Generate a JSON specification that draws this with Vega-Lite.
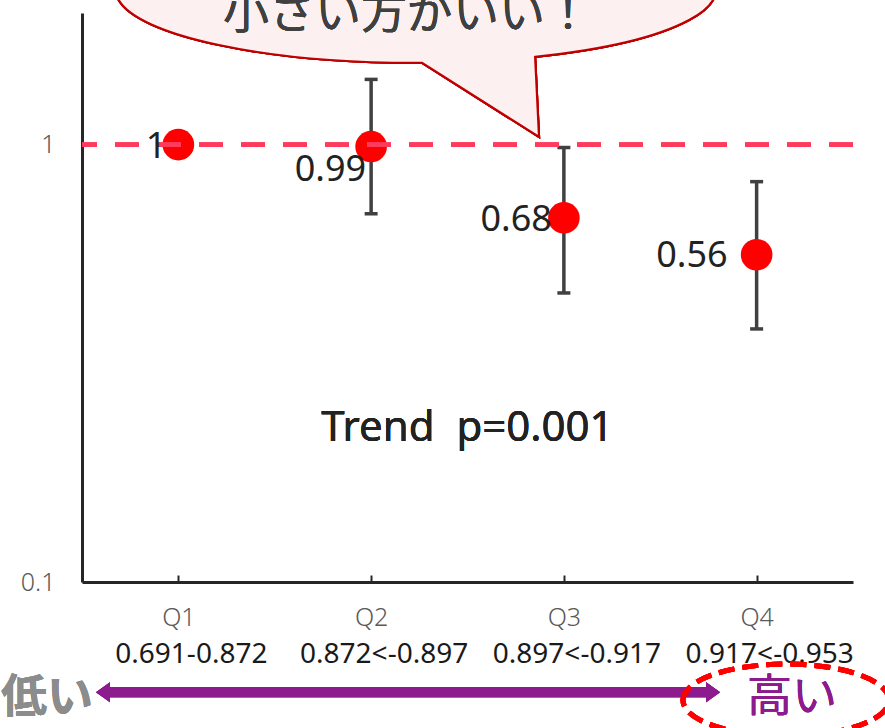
{
  "$schema": "https://vega.github.io/schema/vega-lite/v6.json",
  "width": 771,
  "height": 569,
  "autosize": {"type": "none"},
  "padding": {"left": 82, "top": 13, "right": 32, "bottom": 146},
  "background": "white",
  "config": {
    "view": {"stroke": null},
    "font": "Noto Sans",
    "text": {"font": "Noto Sans"}
  },
  "datasets": {
    "pts": [
      {"q": 1, "quart": "Q1", "hr": 1.0, "lo": null, "hi": null, "label": "1", "range": "0.691-0.872"},
      {"q": 2, "quart": "Q2", "hr": 0.99, "lo": 0.695, "hi": 1.41, "label": "0.99", "range": "0.872<-0.897"},
      {"q": 3, "quart": "Q3", "hr": 0.68, "lo": 0.458, "hi": 0.985, "label": "0.68", "range": "0.897<-0.917"},
      {"q": 4, "quart": "Q4", "hr": 0.56, "lo": 0.379, "hi": 0.823, "label": "0.56", "range": "0.917<-0.953"}
    ]
  },
  "data": {"name": "pts"},
  "layer": [
    {
      "mark": {"type": "point", "shape": "M 0.397 0.2233 A 1 0.2433 0 1 0 0.02 0.2433 L 0.41 0.49 Z", "size": 360000, "filled": true, "fill": "#FDF0F0", "stroke": "#C00000", "strokeWidth": 2.2, "opacity": 1},
      "encoding": {
        "x": {"datum": 2.233, "type": "quantitative", "scale": {"domain": [0.5, 4.5], "nice": false, "zero": false},
          "axis": {"values": [1, 2, 3, 4], "labelExpr": "'Q' + datum.value", "title": null, "grid": false, "domainColor": "#262626", "domainWidth": 3, "tickColor": "#262626", "tickWidth": 2, "tickSize": -7, "labelPadding": 30, "labelFontSize": 25, "labelColor": "#595959", "labelFont": "Noto Sans", "labelFontWeight": 300}},
        "y": {"datum": 2.258, "type": "quantitative", "scale": {"type": "log", "domain": [0.1, 2], "nice": false},
          "axis": {"values": [0.1, 1], "format": "~g", "title": null, "grid": false, "ticks": false, "domainColor": "#262626", "domainWidth": 3, "labelPadding": 27, "labelFontSize": 25, "labelColor": "#595959", "labelFont": "Noto Sans", "labelFontWeight": 300}}
      }
    },
    {
      "mark": {"type": "text", "text": "小さい方がいい！", "font": "Noto Sans CJK JP", "fontSize": 46, "color": "#404040", "align": "center", "baseline": "alphabetic"},
      "encoding": {
        "x": {"datum": 2.186, "type": "quantitative"},
        "y": {"datum": 1.85, "type": "quantitative"}
      }
    },
    {
      "transform": [{"filter": "datum.lo != null"}],
      "mark": {"type": "rule", "color": "#404040", "strokeWidth": 3.5},
      "encoding": {
        "x": {"field": "q", "type": "quantitative"},
        "y": {"field": "lo", "type": "quantitative"},
        "y2": {"field": "hi"}
      }
    },
    {
      "transform": [{"filter": "datum.lo != null"}],
      "mark": {"type": "tick", "orient": "horizontal", "color": "#404040", "size": 13, "thickness": 3.5, "opacity": 1},
      "encoding": {
        "x": {"field": "q", "type": "quantitative"},
        "y": {"field": "lo", "type": "quantitative"}
      }
    },
    {
      "transform": [{"filter": "datum.hi != null"}],
      "mark": {"type": "tick", "orient": "horizontal", "color": "#404040", "size": 13, "thickness": 3.5, "opacity": 1},
      "encoding": {
        "x": {"field": "q", "type": "quantitative"},
        "y": {"field": "hi", "type": "quantitative"}
      }
    },
    {
      "mark": {"type": "point", "shape": "circle", "filled": true, "color": "#FF0000", "size": 1000, "opacity": 1},
      "encoding": {
        "x": {"field": "q", "type": "quantitative"},
        "y": {"field": "hr", "type": "quantitative"}
      }
    },
    {
      "mark": {"type": "rule", "color": "#FF3B5C", "strokeWidth": 4.5, "strokeDash": [24, 18]},
      "encoding": {
        "y": {"datum": 1, "type": "quantitative"}
      }
    },
    {
      "transform": [{"filter": "datum.q == 1 || datum.q == 3"}],
      "mark": {"type": "text", "align": "right", "baseline": "middle", "fontSize": 36, "color": "#222222", "dx": -12, "dy": 2},
      "encoding": {
        "x": {"field": "q", "type": "quantitative"},
        "y": {"field": "hr", "type": "quantitative"},
        "text": {"field": "label"}
      }
    },
    {
      "transform": [{"filter": "datum.q == 2"}],
      "mark": {"type": "text", "align": "right", "baseline": "middle", "fontSize": 36, "color": "#222222", "dx": -5, "dy": 23},
      "encoding": {
        "x": {"field": "q", "type": "quantitative"},
        "y": {"field": "hr", "type": "quantitative"},
        "text": {"field": "label"}
      }
    },
    {
      "transform": [{"filter": "datum.q == 4"}],
      "mark": {"type": "text", "align": "right", "baseline": "middle", "fontSize": 36, "color": "#222222", "dx": -29, "dy": 1},
      "encoding": {
        "x": {"field": "q", "type": "quantitative"},
        "y": {"field": "hr", "type": "quantitative"},
        "text": {"field": "label"}
      }
    },
    {
      "mark": {"type": "text", "text": "Trend\u00a0\u00a0p=0.001", "align": "center", "baseline": "middle", "fontSize": 42, "color": "#222222"},
      "encoding": {
        "x": {"datum": 2.5, "type": "quantitative"},
        "y": {"datum": 0.225, "type": "quantitative"}
      }
    },
    {
      "mark": {"type": "text", "align": "center", "baseline": "middle", "fontSize": 28, "color": "#1a1a1a", "dy": 73, "dx": 13},
      "encoding": {
        "x": {"field": "q", "type": "quantitative"},
        "y": {"datum": 0.1, "type": "quantitative"},
        "text": {"field": "range"}
      }
    },
    {
      "mark": {"type": "rule", "color": "#8E1B8E", "strokeWidth": 10},
      "encoding": {
        "x": {"datum": 0.63, "type": "quantitative"},
        "x2": {"datum": 3.75},
        "y": {"datum": 0.056, "type": "quantitative"}
      }
    },
    {
      "mark": {"type": "point", "shape": "M -0.7 0 L 0.7 -1 L 0.7 1 Z", "size": 400, "filled": true, "color": "#8E1B8E", "opacity": 1},
      "encoding": {
        "x": {"datum": 0.609, "type": "quantitative"},
        "y": {"datum": 0.056, "type": "quantitative"}
      }
    },
    {
      "mark": {"type": "point", "shape": "M 0.7 0 L -0.7 -1 L -0.7 1 Z", "size": 400, "filled": true, "color": "#8E1B8E", "opacity": 1},
      "encoding": {
        "x": {"datum": 3.774, "type": "quantitative"},
        "y": {"datum": 0.056, "type": "quantitative"}
      }
    },
    {
      "mark": {"type": "text", "text": "低い", "font": "Noto Sans CJK JP", "fontSize": 46, "fontWeight": "bold", "color": "#8C8C8C", "align": "right", "baseline": "middle"},
      "encoding": {
        "x": {"datum": 0.557, "type": "quantitative"},
        "y": {"datum": 0.0543, "type": "quantitative"}
      }
    },
    {
      "mark": {"type": "text", "text": "高い", "font": "Noto Sans CJK JP", "fontSize": 45, "color": "#8E1B8E", "align": "center", "baseline": "middle"},
      "encoding": {
        "x": {"datum": 4.183, "type": "quantitative"},
        "y": {"datum": 0.0543, "type": "quantitative"}
      }
    },
    {
      "mark": {"type": "point", "shape": "M -1 0 A 1 0.35 0 1 1 1 0 A 1 0.35 0 1 1 -1 0 Z", "size": 42436, "filled": false, "stroke": "#FF0000", "strokeWidth": 5, "strokeDash": [16, 8], "opacity": 1},
      "encoding": {
        "x": {"datum": 4.152, "type": "quantitative"},
        "y": {"datum": 0.0537, "type": "quantitative"}
      }
    }
  ]
}
